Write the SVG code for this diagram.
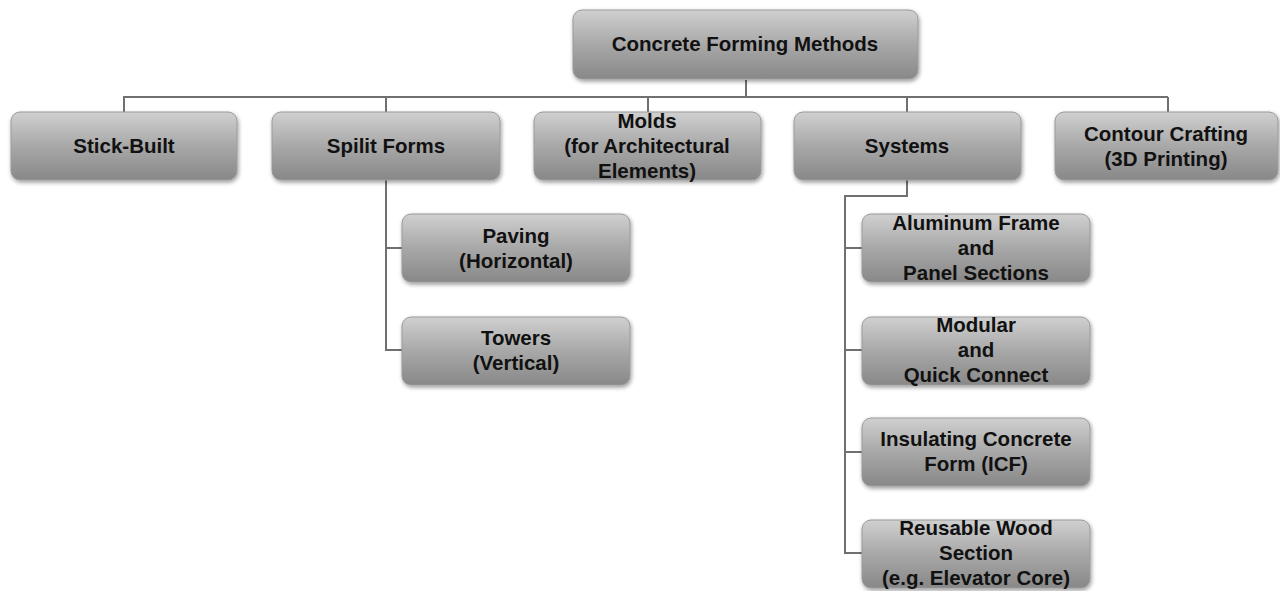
<svg xmlns="http://www.w3.org/2000/svg" width="1280" height="591" viewBox="0 0 1280 591">
<defs>
<linearGradient id="g" x1="0" y1="0" x2="0" y2="1">
<stop offset="0" stop-color="#d0d0d0"/>
<stop offset="0.5" stop-color="#a8a8a8"/>
<stop offset="1" stop-color="#888888"/>
</linearGradient>
<filter id="sh" x="-10%" y="-10%" width="120%" height="130%">
<feGaussianBlur in="SourceAlpha" stdDeviation="2"/>
<feOffset dx="1" dy="2" result="b"/>
<feComponentTransfer><feFuncA type="linear" slope="0.4"/></feComponentTransfer>
<feMerge><feMergeNode/><feMergeNode in="SourceGraphic"/></feMerge>
</filter>
</defs>
<style>
.box{fill:url(#g);stroke:#9a9a9a;stroke-width:1;filter:url(#sh)}
.t{font-family:"Liberation Sans",Arial,sans-serif;font-weight:bold;font-size:20.5px;fill:#111;text-anchor:middle}
.c{fill:none;stroke:#707070;stroke-width:2}
</style>
<rect width="1280" height="591" fill="#fff"/>
<g id="connectors">
<path class="c" d="M746 80V97M123 97H1168M124 97V112M386 97V112M648 97V112M907 97V112M1168 97V112"/>
<path class="c" d="M386 180V350H402M386 248H402"/>
<path class="c" d="M907 180V196H845V553H862M845 248H862M845 350H862M845 452H862"/>
</g>
<g id="root"><rect class="box" x="573" y="10" width="345" height="69" rx="9"/><text class="t" x="745" y="51">Concrete Forming Methods</text></g>
<g id="stick"><rect class="box" x="11" y="112" width="226" height="68" rx="9"/><text class="t" x="124" y="153">Stick-Built</text></g>
<g id="spilit"><rect class="box" x="272" y="112" width="228" height="68" rx="9"/><text class="t" x="386" y="153">Spilit Forms</text></g>
<g id="molds"><rect class="box" x="534" y="112" width="227" height="68" rx="9"/><text class="t" x="647" y="128">Molds</text><text class="t" x="647" y="153">(for Architectural</text><text class="t" x="647" y="178">Elements)</text></g>
<g id="systems"><rect class="box" x="794" y="112" width="227" height="68" rx="9"/><text class="t" x="907" y="153">Systems</text></g>
<g id="contour"><rect class="box" x="1055" y="112" width="223" height="68" rx="9"/><text class="t" x="1166" y="141">Contour Crafting</text><text class="t" x="1166" y="166">(3D Printing)</text></g>
<g id="paving"><rect class="box" x="402" y="214" width="228" height="68" rx="9"/><text class="t" x="516" y="243">Paving</text><text class="t" x="516" y="268">(Horizontal)</text></g>
<g id="towers"><rect class="box" x="402" y="317" width="228" height="68" rx="9"/><text class="t" x="516" y="345">Towers</text><text class="t" x="516" y="370">(Vertical)</text></g>
<g id="aluminum"><rect class="box" x="862" y="214" width="228" height="68" rx="9"/><text class="t" x="976" y="230">Aluminum Frame</text><text class="t" x="976" y="255">and</text><text class="t" x="976" y="280">Panel Sections</text></g>
<g id="modular"><rect class="box" x="862" y="317" width="228" height="68" rx="9"/><text class="t" x="976" y="332">Modular</text><text class="t" x="976" y="357">and</text><text class="t" x="976" y="382">Quick Connect</text></g>
<g id="icf"><rect class="box" x="862" y="418" width="228" height="68" rx="9"/><text class="t" x="976" y="446">Insulating Concrete</text><text class="t" x="976" y="471">Form (ICF)</text></g>
<g id="wood"><rect class="box" x="862" y="520" width="228" height="68" rx="9"/><text class="t" x="976" y="535">Reusable Wood</text><text class="t" x="976" y="560">Section</text><text class="t" x="976" y="585">(e.g. Elevator Core)</text></g>
</svg>
